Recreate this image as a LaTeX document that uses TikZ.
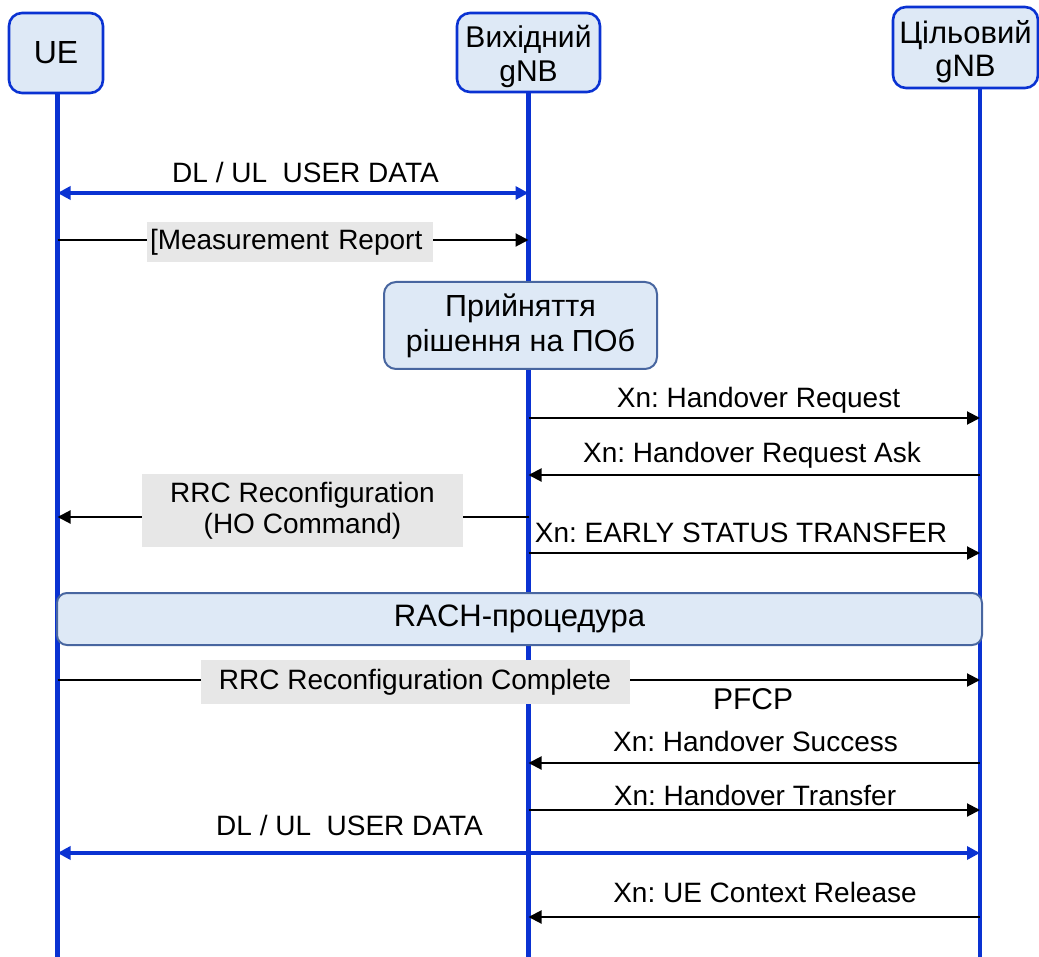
\documentclass[tikz,border=0pt]{standalone}
\usepackage{fontspec}
\setmainfont{Liberation Sans}
\usetikzlibrary{arrows.meta}

\definecolor{lineblue}{RGB}{10,50,210}
\definecolor{headfill}{RGB}{222,233,246}
\definecolor{boxline}{RGB}{72,102,160}
\definecolor{taggray}{RGB}{231,231,231}

\tikzset{
  head/.style={draw=lineblue, line width=2.6pt, fill=headfill, rounded corners=13pt,
    inner sep=0pt},
  headtext/.style={align=center, inner sep=0pt, font=\fontsize{30}{34}\selectfont},
  stage/.style={draw=boxline, line width=2pt, fill=headfill, rounded corners=12pt,
    align=center, inner sep=0pt},
  life/.style={lineblue, line width=4.8pt},
  msg/.style={line width=2pt, -{Triangle[length=13pt,width=13pt]}},
  data/.style={lineblue, line width=4pt,
    {Triangle[length=13pt,width=13pt]}-{Triangle[length=13pt,width=13pt]}},
  tag/.style={fill=taggray, inner sep=0pt, align=center},
  lbl/.style={anchor=base, inner sep=0pt}
}

\begin{document}
\frenchspacing
\begin{tikzpicture}[x=1pt, y=-1pt, font=\fontsize{28}{31}\selectfont]
  \useasboundingbox (0,0) rectangle (1039,957);

  \coordinate (ueL) at (57.5,92);
  \coordinate (srcL) at (528.5,92);
  \coordinate (tgtL) at (980,88);
  \coordinate (bottom) at (0,957);

  \draw[life] (ueL) -- (ueL |- bottom);
  \draw[life] (srcL) -- (srcL |- bottom);
  \draw[life] (tgtL) -- (tgtL |- bottom);

  \node[head, minimum width=94pt, minimum height=80pt, font=\fontsize{32}{33}\selectfont] (ue) at (56,53) {UE};
  \node[head, minimum width=143pt, minimum height=79pt] (src) at (528.5,52.5) {};
  \node[headtext] (srcname) at ([yshift=-4pt]src.center) {Вихідний\\gNB};
  \node[head, minimum width=145pt, minimum height=81pt] (tgt) at (965.5,47.5) {};
  \node[headtext, font=\fontsize{31}{33}\selectfont] (tgtname) at ([yshift=-4pt]tgt.center) {Цільовий\\gNB};

  % messages
  \draw[data] (ueL |- 0,193) -- (srcL |- 0,193);
  \draw[msg] (ueL |- 0,240) -- (srcL |- 0,240);
  \draw[msg] (srcL |- 0,418) -- (tgtL |- 0,418);
  \draw[msg] (tgtL |- 0,475) -- (srcL |- 0,475);
  \draw[msg] (srcL |- 0,517) -- (ueL |- 0,517);
  \draw[msg] (srcL |- 0,553) -- (tgtL |- 0,553);
  \draw[msg] (ueL |- 0,680) -- (tgtL |- 0,680);
  \draw[msg] (tgtL |- 0,763) -- (srcL |- 0,763);
  \draw[msg] (srcL |- 0,810) -- (tgtL |- 0,810);
  \draw[data] (ueL |- 0,853) -- (tgtL |- 0,853);
  \draw[msg] (tgtL |- 0,917) -- (srcL |- 0,917);

  \node[stage, minimum width=273pt, minimum height=87pt, font=\fontsize{30.5}{35}\selectfont] (decide) at (520.5,325.5) {Прийняття\\рішення на ПОб};
  \node[stage, minimum width=925pt, minimum height=52pt, rounded corners=10pt, font=\fontsize{31}{33}\selectfont] (rach) at (519.5,619) {RACH-процедура};

  \node[tag, minimum width=286pt, minimum height=40pt, text width=280pt, align=left] (measrep) at (290,242) {[Measurement Report};
  \node[tag, minimum width=321pt, minimum height=73pt] (hocmd) at (302.5,510.5) {RRC Reconfiguration\\(HO Command)};
  \node[tag, minimum width=429pt, minimum height=44pt] (rrcdone) at (415,682) {RRC Reconfiguration Complete};

  \node[lbl] (data1) at (305.5,183) {DL / UL\ \ USER DATA};
  \node[lbl] (horeq) at (758.5,408) {Xn: Handover Request};
  \node[lbl] (hoask) at (752,462) {Xn: Handover Request Ask};
  \node[lbl] (early) at (741,542) {Xn: EARLY STATUS TRANSFER};
  \node[lbl, font=\fontsize{30}{31}\selectfont] (pfcp) at (753,709) {PFCP};
  \node[lbl] (hosucc) at (755.5,751) {Xn: Handover Success};
  \node[lbl] (hotrans) at (755,805) {Xn: Handover Transfer};
  \node[lbl] (data2) at (349.5,835) {DL / UL\ \ USER DATA};
  \node[lbl] (ctxrel) at (765,902) {Xn: UE Context Release};
\end{tikzpicture}
\end{document}
